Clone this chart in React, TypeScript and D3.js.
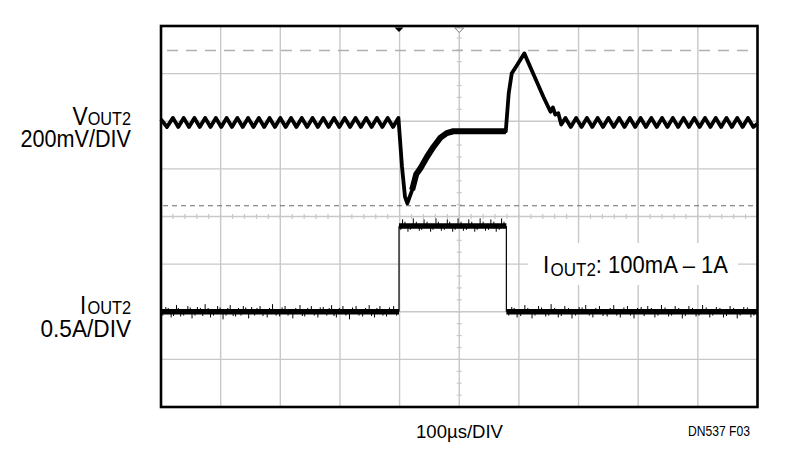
import React from 'react';
import * as d3 from 'd3';

// ---- data (time in µs, 100 µs/div; voltage deviation in mV; current in A) ----
const timeDomain: [number, number] = [0, 1000];
const divDomain: [number, number] = [-4, 4];
const vMvPerDiv = 200;
const vOffsetDiv = 2;
const iAPerDiv = 0.5;
const iOffsetDiv = -2.2;

const vRipplePre: [number, number][] = [
  [0, 8], [10, -24], [20, 14], [29, -24], [38, 14], [47, -24], [56, 14], [65, -24],
  [74, 14], [83, -24], [92, 14], [101, -24], [110, 14], [119, -24], [128, 14], [137, -24],
  [146, 14], [155, -24], [164, 14], [173, -24], [182, 14], [191, -24], [200, 14], [209, -24],
  [218, 14], [227, -24], [236, 14], [245, -24], [254, 14], [263, -24], [272, 14], [281, -24],
  [290, 14], [299, -24], [308, 14], [317, -24], [326, 14], [335, -24], [344, 14], [353, -24],
  [362, 14], [371, -24], [380, 14], [389, -24], [398, 14],
];
const vTransient: [number, number][] = [
  [404, -191], [409, -317], [413, -345], [421, -289], [428, -222], [435, -197],
  [446, -149], [457, -107], [468, -70], [479, -50], [490, -42], [500, -42],
  [540, -42], [578, -42], [583, 119], [588, 201], [597, 236], [609, 285],
  [625, 194], [641, 103], [653, 40], [657, 58], [661, 28], [666, 34], [671, -14],
];
const vRipplePost: [number, number][] = [
  [678, 14], [687, -24], [696, 14], [705, -24], [714, 14], [723, -24], [732, 14], [741, -24],
  [750, 14], [759, -24], [768, 14], [777, -24], [786, 14], [795, -24], [804, 14], [813, -24],
  [822, 14], [831, -24], [840, 14], [849, -24], [858, 14], [867, -24], [876, 14], [885, -24],
  [894, 14], [903, -24], [912, 14], [921, -24], [930, 14], [939, -24], [948, 14], [957, -24],
  [966, 14], [975, -24], [984, 14], [993, -24], [1000, -10],
];
const vNoisyStart = 421;
const vNoisyEnd = 578;

const iLevels: [number, number][] = [
  [0, 0.1], [399, 0.1], [399, 1.0], [579, 1.0], [579, 0.1], [1000, 0.1],
];
const iSpikesLow: [number, number][] = [
  [8, 0.05], [17, -0.06], [26, 0.07], [33, -0.05], [45, 0.06], [52, -0.07], [61, 0.05], [74, 0.08],
  [83, -0.06], [95, 0.06], [104, -0.08], [116, 0.07], [125, -0.05], [138, 0.06], [147, -0.07],
  [152, 0.05], [166, 0.06], [178, -0.06], [187, 0.08], [199, -0.05], [208, 0.06], [221, -0.07],
  [233, 0.07], [241, -0.05], [252, 0.06], [263, -0.06], [272, 0.05], [286, 0.07], [294, -0.06],
  [305, 0.06], [316, -0.08], [327, 0.06], [338, -0.05], [349, 0.07], [358, -0.06], [367, 0.06],
  [378, -0.05], [390, 0.06],
  [588, 0.05], [597, -0.06], [610, 0.07], [622, -0.07], [633, 0.06], [645, -0.05], [654, 0.08],
  [666, -0.06], [677, 0.06], [689, -0.07], [701, 0.05], [712, 0.07], [724, -0.06], [735, 0.06],
  [748, -0.05], [759, 0.07], [770, -0.06], [782, 0.06], [793, -0.07], [805, 0.05], [816, 0.06],
  [828, -0.06], [839, 0.07], [851, -0.05], [862, 0.06], [874, -0.07], [885, 0.06], [897, -0.05],
  [908, 0.07], [920, -0.06], [931, 0.05], [943, -0.06], [954, 0.06], [966, -0.07], [977, 0.05],
  [989, -0.06],
];
const iFuzzLow: [number, number][] = [
  [3, -0.04], [12, 0.04], [21, -0.045], [29, 0.04], [38, -0.04], [49, 0.045], [57, -0.04], [66, 0.04],
  [70, -0.045], [79, 0.04], [88, -0.04], [99, 0.045], [109, -0.04], [112, 0.04], [121, -0.045],
  [130, 0.04], [134, -0.04], [142, 0.045], [157, -0.04], [161, 0.04], [171, -0.045], [182, 0.04],
  [193, -0.04], [203, 0.045], [213, -0.04], [226, 0.04], [237, -0.045], [246, 0.04], [257, -0.04],
  [267, 0.045], [278, -0.04], [282, 0.04], [290, -0.045], [299, 0.04], [310, -0.04], [321, 0.045],
  [332, -0.04], [343, 0.04], [353, -0.045], [362, 0.04], [372, -0.04], [383, 0.045], [395, -0.04],
  [583, -0.04], [592, 0.04], [603, -0.045], [615, 0.04], [627, -0.04], [638, 0.045], [650, -0.04],
  [660, 0.04], [671, -0.045], [683, 0.04], [695, -0.04], [706, 0.045], [718, -0.04], [729, 0.04],
  [741, -0.045], [753, 0.04], [764, -0.04], [776, 0.045], [787, -0.04], [799, 0.04], [810, -0.045],
  [822, 0.04], [833, -0.04], [845, 0.045], [856, -0.04], [868, 0.04], [879, -0.045], [891, 0.04],
  [902, -0.04], [914, 0.045], [925, -0.04], [937, 0.04], [948, -0.045], [960, 0.04], [971, -0.04],
  [983, 0.045], [994, -0.04],
];
const iSpikesHigh: [number, number][] = [
  [405, 0.07], [414, -0.06], [423, 0.08], [433, -0.05], [441, 0.07], [452, -0.06], [461, 0.08],
  [470, -0.05], [480, 0.07], [489, -0.06], [498, 0.08], [507, -0.05], [516, 0.07], [526, -0.06],
  [535, 0.08], [544, -0.05], [553, 0.07], [562, -0.06], [571, 0.08],
];
const iFuzzHigh: [number, number][] = [
  [402, -0.04], [409, 0.045], [418, -0.04], [428, 0.045], [437, -0.04], [446, 0.045], [456, -0.04],
  [465, 0.045], [475, -0.04], [484, 0.045], [493, -0.04], [503, 0.045], [512, -0.04], [521, 0.045],
  [530, -0.04], [540, 0.045], [549, -0.04], [558, 0.045], [567, -0.04], [575, 0.045],
];

const cursorHighMv = 297;
const cursorLowMv = -355;
const triggerT = 399;
const centerT = 500;

const labelV = { main: 'V', sub: 'OUT2', scale: '200mV/DIV' };
const labelI = { main: 'I', sub: 'OUT2', scale: '0.5A/DIV' };
const annotation = { main: 'I', sub: 'OUT2', rest: ': 100mA – 1A' };
const timeLabel = '100µs/DIV';
const figLabel = 'DN537 F03';

// ---- layout ----
const FONT = "'Liberation Sans Narrow', 'Liberation Sans', Arial, sans-serif";
const GRID = '#c8c8c8';

export default function App() {
  const x = d3.scaleLinear().domain(timeDomain).range([161, 757.5]);
  const y = d3.scaleLinear().domain(divDomain).range([407, 26]);
  const vy = (mv: number) => y(vOffsetDiv + mv / vMvPerDiv);
  const iy = (a: number) => y(iOffsetDiv + a / iAPerDiv);

  const vAll = [...vRipplePre, ...vTransient, ...vRipplePost];
  const vLine = d3.line<[number, number]>().x(d => x(d[0])).y(d => vy(d[1]));
  const vNoisy = vAll.filter(d => d[0] >= vNoisyStart && d[0] <= vNoisyEnd);
  const iLine = d3.line<[number, number]>().x(d => x(d[0])).y(d => iy(d[1]));
  const iLowA = iLevels.filter((_, k) => k <= 1);
  const iHighA = iLevels.filter((_, k) => k >= 2 && k <= 3);
  const iLowB = iLevels.filter((_, k) => k >= 4);
  const lowSpikes = [...iSpikesLow, ...iFuzzLow];
  const highSpikes = [...iSpikesHigh, ...iFuzzHigh];

  const vGrid = d3.range(1, 10).map(k => timeDomain[0] + k * 100);
  const hGrid = d3.range(-3, 4);
  const minorX = d3.range(0, 1000.1, 20);
  const minorY = d3.range(-4, 4.01, 0.25);

  const [x0, x1] = x.range();
  const [yb, yt] = y.range();
  const cx = x(centerT);
  const cy = y(0);
  const tx = x(triggerT);

  return (
    <svg width={810} height={465} style={{ position: 'absolute', left: 0, top: 0, background: '#fff' }}
      fontFamily={FONT}>
      <rect x={0} y={0} width={810} height={465} fill="#fff" />
      {/* grid */}
      {vGrid.map(t => (
        <line key={'v' + t} x1={x(t)} x2={x(t)} y1={yt} y2={yb} stroke={GRID} strokeWidth={1.4} />
      ))}
      {hGrid.map(d => (
        <line key={'h' + d} x1={x0} x2={x1} y1={y(d)} y2={y(d)} stroke={GRID} strokeWidth={1.4} />
      ))}
      {minorX.map(t => (
        <line key={'mx' + t} x1={x(t)} x2={x(t)} y1={cy - 2.5} y2={cy + 2.5} stroke={GRID} strokeWidth={1.2} />
      ))}
      {minorY.map(d => (
        <line key={'my' + d} x1={cx - 2.5} x2={cx + 2.5} y1={y(d)} y2={y(d)} stroke={GRID} strokeWidth={1.2} />
      ))}
      {/* cursors */}
      <line x1={x0 + 6} x2={x1 - 2} y1={vy(cursorHighMv)} y2={vy(cursorHighMv)} stroke="#b0b0b0"
        strokeWidth={1.5} strokeDasharray="11 8" />
      <line x1={x0 + 2} x2={x1 - 2} y1={vy(cursorLowMv)} y2={vy(cursorLowMv)} stroke="#6a6a6a"
        strokeWidth={1.1} strokeDasharray="5 4" />
      {/* annotation box */}
      <rect x={528} y={243} width={210} height={42} fill="#fff" />
      {/* current trace */}
      {[iLowA, iHighA, iLowB].map((seg, k) => (
        <path key={'is' + k} d={iLine(seg) || ''} fill="none" stroke="#000" strokeWidth={5.5} />
      ))}
      <path d={iLine([iLevels[1], iLevels[2]]) || ''} stroke="#000" strokeWidth={1.2} fill="none" />
      <path d={iLine([iLevels[3], iLevels[4]]) || ''} stroke="#000" strokeWidth={1.2} fill="none" />
      {lowSpikes.map(([t, d], k) => (
        <line key={'sl' + k} x1={x(t)} x2={x(t)} y1={iy(0.1)} y2={iy(0.1 + d)} stroke="#000" strokeWidth={1} />
      ))}
      {highSpikes.map(([t, d], k) => (
        <line key={'sh' + k} x1={x(t)} x2={x(t)} y1={iy(1.0)} y2={iy(1.0 + d)} stroke="#000" strokeWidth={1} />
      ))}
      {/* voltage trace */}
      <path d={vLine(vAll) || ''} fill="none" stroke="#000" strokeWidth={3.8} strokeLinejoin="round" />
      <path d={vLine(vNoisy) || ''} fill="none" stroke="#000" strokeWidth={6} strokeLinejoin="round" />
      {/* frame */}
      <rect x={x0} y={yt} width={x1 - x0} height={yb - yt} fill="none" stroke="#000" strokeWidth={2.6} />
      {/* trigger markers */}
      <path d={`M${tx - 4.5},${yt + 1.5} L${tx + 4.5},${yt + 1.5} L${tx},${yt + 6} Z`} fill="#000" />
      <path d={`M${cx - 4.5},${yt + 1.8} L${cx + 4.5},${yt + 1.8} L${cx},${yt + 6.5} Z`} fill="#fff"
        stroke="#777" strokeWidth={1} />
      {/* labels */}
      <text x={72.5} y={124.5} textLength={58.5} lengthAdjust="spacingAndGlyphs">
        <tspan fontSize={26}>{labelV.main}</tspan>
        <tspan fontSize={18.5}>{labelV.sub}</tspan>
      </text>
      <text x={20.5} y={146.5} fontSize={23} textLength={110.5} lengthAdjust="spacingAndGlyphs">{labelV.scale}</text>
      <text x={80} y={314} textLength={51} lengthAdjust="spacingAndGlyphs">
        <tspan fontSize={25}>{labelI.main}</tspan>
        <tspan fontSize={18.5} dx={1.5}>{labelI.sub}</tspan>
      </text>
      <text x={40.5} y={337} fontSize={23} textLength={90.5} lengthAdjust="spacingAndGlyphs">{labelI.scale}</text>
      <text x={543} y={272.5} textLength={185} lengthAdjust="spacingAndGlyphs">
        <tspan fontSize={24.5}>{annotation.main}</tspan>
        <tspan fontSize={18.5} dx={1.5} dy={3.5}>{annotation.sub}</tspan>
        <tspan fontSize={24} dy={-3.5}>{annotation.rest}</tspan>
      </text>
      <text x={416} y={437.5} fontSize={18.5} textLength={87} lengthAdjust="spacingAndGlyphs">{timeLabel}</text>
      <text x={688} y={436} fontSize={14} textLength={62} lengthAdjust="spacingAndGlyphs">{figLabel}</text>
    </svg>
  );
}
